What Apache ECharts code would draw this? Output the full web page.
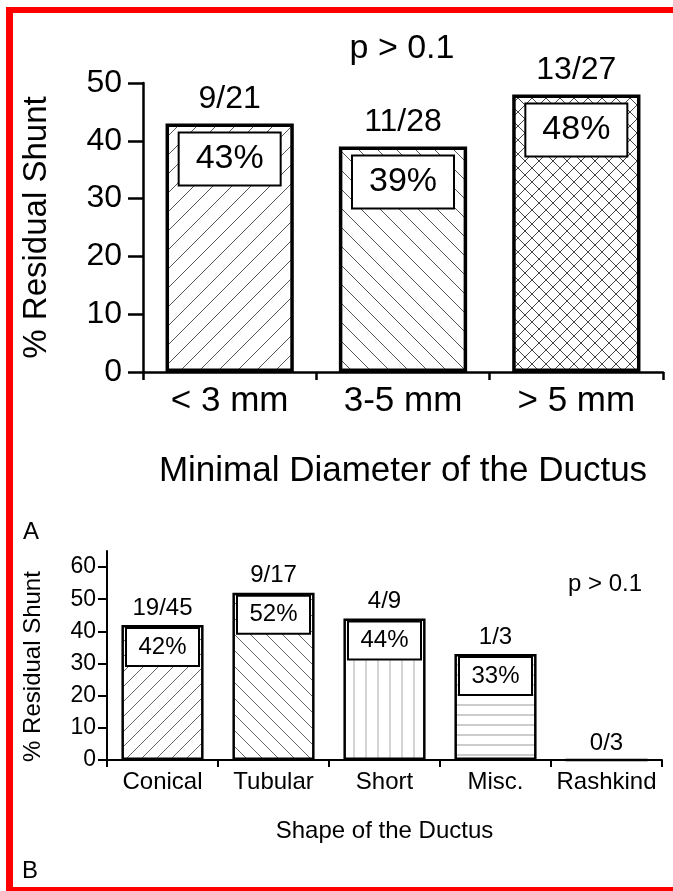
<!DOCTYPE html>
<html><head><meta charset="utf-8">
<script src="https://cdn.jsdelivr.net/npm/echarts@6/dist/echarts.min.js"></script>
<style>
html,body{margin:0;padding:0;background:#fff;overflow:hidden;}
#chart{position:absolute;left:0;top:0;width:673px;height:891px;}
.red{position:absolute;background:#f00;}
</style></head><body>
<div id="chart"></div>
<div class="red" style="left:6px;top:7px;width:7px;height:884px"></div>
<div class="red" style="left:6px;top:7px;width:667px;height:6px"></div>
<div class="red" style="left:6px;top:887px;width:667px;height:4px"></div>
<script>
// ---- data ----
const catsA = ['< 3 mm', '3-5 mm', '> 5 mm'];
const valsA = [43, 39, 48];
const fracsA = ['9/21', '11/28', '13/27'];
const yTicksA = [0, 10, 20, 30, 40, 50];

const catsB = ['Conical', 'Tubular', 'Short', 'Misc.', 'Rashkind'];
const valsB = [42, 52, 44, 33, 0];
const fracsB = ['19/45', '9/17', '4/9', '1/3', '0/3'];
const yTicksB = [0, 10, 20, 30, 40, 50, 60];

const FONT = "'Liberation Sans', Arial, Helvetica, sans-serif";

// ---- hatch patterns ----
function pat(kind, s, color, lw) {
  const c = document.createElement('canvas');
  c.width = s; c.height = s;
  const g = c.getContext('2d');
  g.fillStyle = '#fff'; g.fillRect(0, 0, s, s);
  g.strokeStyle = color; g.lineWidth = lw;
  g.beginPath();
  if (kind === '/' || kind === 'x') {
    g.moveTo(-1, s + 1); g.lineTo(s + 1, -1);
    g.moveTo(-1, 1); g.lineTo(1, -1);
    g.moveTo(s - 1, s + 1); g.lineTo(s + 1, s - 1);
  }
  if (kind === '\\' || kind === 'x') {
    g.moveTo(-1, -1); g.lineTo(s + 1, s + 1);
    g.moveTo(s - 1, -1); g.lineTo(s + 1, 1);
    g.moveTo(-1, s - 1); g.lineTo(1, s + 1);
  }
  if (kind === '|') { g.moveTo(s / 2, 0); g.lineTo(s / 2, s); }
  if (kind === '-') { g.moveTo(0, s / 2); g.lineTo(s, s / 2); }
  g.stroke();
  return { image: c, repeat: 'repeat' };
}
const patA = [pat('/', 19, '#555', 1), pat('\\', 19, '#555', 1), pat('x', 14, '#444', 1)];
const patB = [pat('/', 15, '#666', 1), pat('\\', 16, '#666', 1), pat('|', 12, '#aaa', 1), pat('-', 10, '#999', 1), pat('-', 10, '#999', 1)];

const chart = echarts.init(document.getElementById('chart'), null, { renderer: 'canvas' });

const axisLineStyle = (w) => ({ show: true, lineStyle: { color: '#000', width: w } });

const option = {
  backgroundColor: '#fff',
  animation: false,
  textStyle: { fontFamily: FONT, color: '#000' },
  grid: [
    { left: 143, right: 10, top: 83, height: 289, containLabel: false },
    { left: 107, right: 11, top: 551, height: 209, containLabel: false }
  ],
  xAxis: [
    {
      gridIndex: 0, type: 'category', data: catsA,
      axisLine: axisLineStyle(2.5),
      axisTick: { show: true, length: 8, interval: 0, lineStyle: { color: '#000', width: 2.5 } },
      axisLabel: { interval: 0, margin: 12, fontSize: 35, color: '#000', fontFamily: FONT },
      name: 'Minimal Diameter of the Ductus', nameLocation: 'middle', nameGap: 82,
      nameTextStyle: { fontSize: 35, color: '#000', fontFamily: FONT }
    },
    {
      gridIndex: 1, type: 'category', data: catsB,
      axisLine: axisLineStyle(2),
      axisTick: { show: true, length: 7, interval: 0, lineStyle: { color: '#000', width: 2 } },
      axisLabel: { interval: 0, hideOverlap: false, margin: 10, fontSize: 24, color: '#000', fontFamily: FONT },
      name: 'Shape of the Ductus', nameLocation: 'middle', nameGap: 59,
      nameTextStyle: { fontSize: 24, color: '#000', fontFamily: FONT }
    }
  ],
  yAxis: [
    {
      gridIndex: 0, type: 'value', min: 0, max: 50, interval: 10,
      axisLine: axisLineStyle(2.5),
      axisTick: { show: true, length: 15, lineStyle: { color: '#000', width: 2.5 } },
      axisLabel: { margin: 21, fontSize: 32, color: '#000', fontFamily: FONT, customValues: yTicksA },
      splitLine: { show: false },
      name: '% Residual Shunt', nameLocation: 'middle', nameGap: 90,
      nameTextStyle: { fontSize: 33, color: '#000', fontFamily: FONT }
    },
    {
      gridIndex: 1, type: 'value', min: 0, max: 65, interval: 10,
      axisLine: axisLineStyle(2),
      axisTick: { show: true, length: 9, customValues: yTicksB, lineStyle: { color: '#000', width: 2 } },
      axisLabel: { margin: 11, fontSize: 23, color: '#000', fontFamily: FONT, customValues: yTicksB },
      splitLine: { show: false },
      name: '% Residual Shunt', nameLocation: 'middle', nameGap: 62,
      nameTextStyle: { fontSize: 24, color: '#000', fontFamily: FONT, padding: [0, 22, 0, 0] }
    }
  ],
  series: [
    {
      type: 'bar', xAxisIndex: 0, yAxisIndex: 0, barCategoryGap: '26%',
      data: valsA.map((v, i) => ({ value: v, itemStyle: { color: patA[i] } })),
      itemStyle: { borderColor: '#000', borderWidth: 3.5 },
      label: {
        show: true, position: 'insideTop', distance: 10, formatter: '{c}%',
        fontSize: 34, color: '#000', fontFamily: FONT, backgroundColor: '#fff',
        borderColor: '#000', borderWidth: 2, width: 100, height: 51, lineHeight: 51, align: 'center'
      }
    },
    {
      type: 'bar', xAxisIndex: 0, yAxisIndex: 0, barCategoryGap: '26%', barGap: '-100%',
      data: valsA, silent: true,
      itemStyle: { color: 'transparent', borderWidth: 0 },
      label: {
        show: true, position: 'top', distance: 8,
        formatter: (p) => fracsA[p.dataIndex],
        fontSize: 32, color: '#000', fontFamily: FONT
      }
    },
    {
      type: 'bar', xAxisIndex: 1, yAxisIndex: 1, barCategoryGap: '26%',
      data: valsB.map((v, i) => ({ value: v, itemStyle: { color: patB[i] }, label: { show: v > 0 } })),
      itemStyle: { borderColor: '#000', borderWidth: 2.5 },
      label: {
        show: true, position: 'insideTop', distance: 4, formatter: '{c}%',
        fontSize: 24, color: '#000', fontFamily: FONT, backgroundColor: '#fff',
        borderColor: '#000', borderWidth: 2, width: 71, height: 36, lineHeight: 36, align: 'center'
      }
    },
    {
      type: 'bar', xAxisIndex: 1, yAxisIndex: 1, barCategoryGap: '26%', barGap: '-100%',
      data: valsB, silent: true,
      itemStyle: { color: 'transparent', borderWidth: 0 },
      label: {
        show: true, position: 'top', distance: 5,
        formatter: (p) => fracsB[p.dataIndex],
        fontSize: 24, color: '#000', fontFamily: FONT
      }
    }
  ],
  graphic: [
    { type: 'text', x: 402, y: 49, style: { text: 'p > 0.1', font: '34px ' + FONT, fill: '#000', align: 'center', verticalAlign: 'middle' } },
    { type: 'text', x: 605, y: 584, style: { text: 'p > 0.1', font: '24px ' + FONT, fill: '#000', align: 'center', verticalAlign: 'middle' } },
    { type: 'text', x: 31, y: 532, style: { text: 'A', font: '24px ' + FONT, fill: '#000', align: 'center', verticalAlign: 'middle' } },
    { type: 'text', x: 30, y: 871, style: { text: 'B', font: '24px ' + FONT, fill: '#000', align: 'center', verticalAlign: 'middle' } }
  ]
};
chart.setOption(option);
</script>
</body></html>
